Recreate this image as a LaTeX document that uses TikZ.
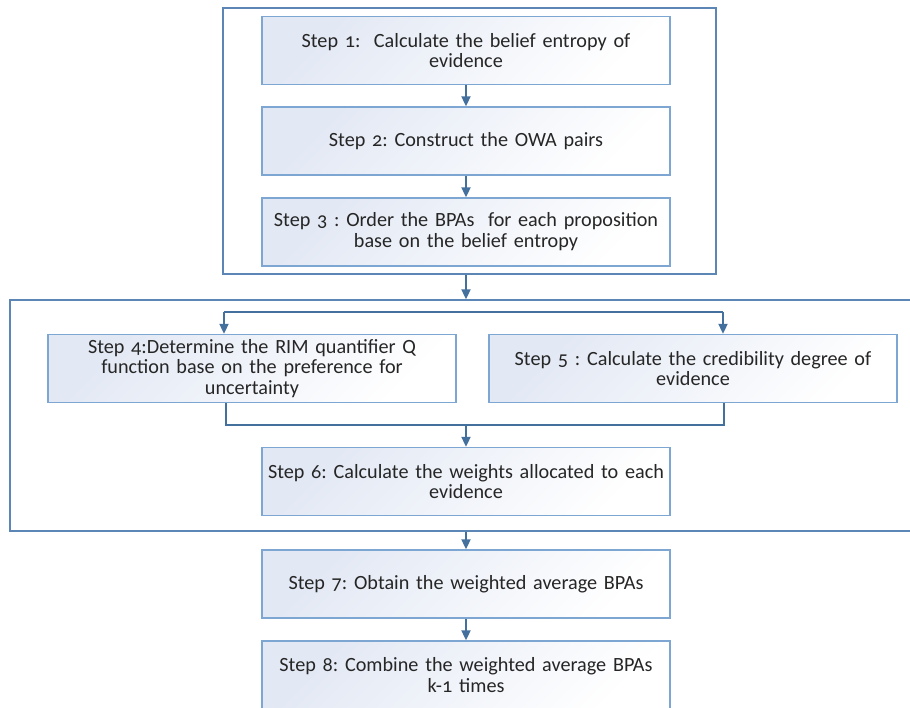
\documentclass[tikz,border=0pt]{standalone}
\usepackage{fontspec}
\setmainfont{Carlito}[Numbers=OldStyle]
\usetikzlibrary{arrows.meta,calc}
\definecolor{boxline}{HTML}{7EA6D3}
\definecolor{grpline}{HTML}{5B86B5}
\definecolor{arrowc}{HTML}{44709E}
\definecolor{grad}{HTML}{E2E8F4}
\definecolor{txt}{HTML}{262626}
\begin{document}
\frenchspacing
\begin{tikzpicture}[x=1pt,y=-1pt,
  stepbox/.style={draw=boxline, line width=1.3pt, top color=grad, bottom color=white, shading angle=45,
    minimum width=408pt, minimum height=68pt, text width=406pt, align=center,
    font=\fontsize{20.2}{20.8}\selectfont, text=txt, inner sep=0pt},
  groupbox/.style={draw=grpline, line width=1.3pt, fill=none, inner sep=0pt},
  arr/.style={draw=arrowc, line width=1.8pt, -{Triangle[width=9pt,length=10pt]}},
  conn/.style={draw=arrowc, line width=1.8pt}]
\useasboundingbox (0,0) rectangle (910,708);
\clip (0,0) rectangle (910,708);

\node[groupbox, minimum width=493pt, minimum height=266pt] (g1) at (469.5,141) {};
\node[groupbox, minimum width=905pt, minimum height=231pt] (g2) at (462.5,415.5) {};

\node[stepbox] (s1) at (466,50.5) {Step 1:\ \ Calculate the belief entropy of\\evidence};
\node[stepbox] (s2) at (466,141) {Step 2: Construct the OWA pairs};
\node[stepbox] (s3) at (466,232) {Step 3 : Order the BPAs\ \ for each proposition\\base on the belief entropy};
\node[stepbox] (s4) at (252,368.5) {Step 4:Determine the RIM quantifier Q\\function base on the preference for\\uncertainty};
\node[stepbox] (s5) at (693,368.5) {Step 5 : Calculate the credibility degree of\\evidence};
\node[stepbox] (s6) at (466,481.5) {Step 6: Calculate the weights allocated to each\\evidence};
\node[stepbox] (s7) at (466,584) {Step 7: Obtain the weighted average BPAs};
\node[stepbox] (s8) at (466,675) {Step 8: Combine the weighted average BPAs\\k-1 times};

\draw[arr] (s1.south) -- (s2.north);
\draw[arr] (s2.south) -- (s3.north);
\draw[arr] (s3.south |- g1.south) -- (s3.south |- g2.north);

\coordinate (spl) at (224,312);
\coordinate (spr) at (723,312);
\draw[conn] (spl) -- (spr);
\draw[arr] (spl) -- (spl |- s4.north);
\draw[arr] (spr) -- (spr |- s5.north);

\coordinate (jl) at (226,425);
\coordinate (jr) at (724,425);
\draw[conn] (jl |- s4.south) -- (jl) -- (jr) -- (jr |- s5.south);
\draw[arr] (s6.north |- jl) -- (s6.north);

\draw[arr] (s7.north |- g2.south) -- (s7.north);
\draw[arr] (s7.south) -- (s8.north);
\end{tikzpicture}
\end{document}
